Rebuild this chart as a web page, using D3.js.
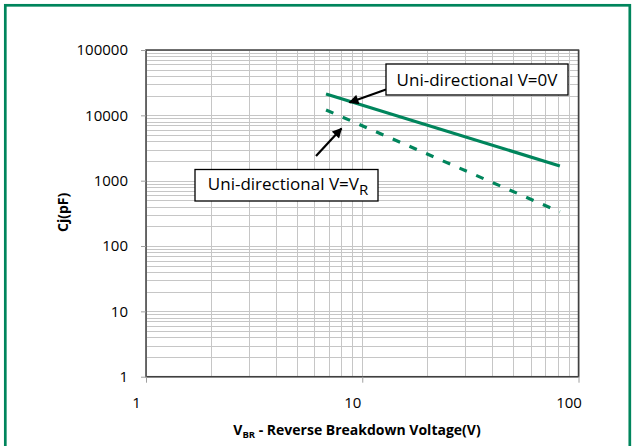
<!DOCTYPE html>
<html>
<head>
<meta charset="utf-8">
<script src="https://cdn.jsdelivr.net/npm/d3@7"></script>
<style>
body { margin: 0; background: #fff; }
text { font-family: "Open Sans", sans-serif; }
</style>
</head>
<body>
<script>
var width = 635;
var height = 446;

// data
var voltage = [6.8, 82];
var cap_0v = [21200, 1680];
var cap_vr = [12100, 333];
var x_ticks = [1, 10, 100];
var y_ticks = [1, 10, 100, 1000, 10000, 100000];

var green = "#00855c";
var plot_l = 146, plot_r = 578.5, plot_t = 50, plot_b = 376.7;

var svg = d3.select("body")
    .append("svg")
    .attr("width", width)
    .attr("height", height);

// green frame round the whole chart
svg.append("rect")
    .attr("x", 5.3)
    .attr("y", 5.3)
    .attr("width", 624.5)
    .attr("height", 460)
    .attr("fill", "none")
    .attr("stroke", green)
    .attr("stroke-width", 2.7);

var x = d3.scaleLog().domain([1, 100]).range([plot_l, plot_r]);
var y = d3.scaleLog().domain([1, 100000]).range([plot_b, plot_t]);

// grid, every 1..9 of each decade
svg.append("g")
    .selectAll("line")
    .data(x.ticks())
    .enter()
    .append("line")
    .attr("x1", function(d) { return Math.round(x(d)) + 0.5; })
    .attr("x2", function(d) { return Math.round(x(d)) + 0.5; })
    .attr("y1", plot_t)
    .attr("y2", plot_b)
    .attr("stroke", "#c6c6c6")
    .attr("stroke-width", 1);

svg.append("g")
    .selectAll("line")
    .data(y.ticks())
    .enter()
    .append("line")
    .attr("x1", plot_l)
    .attr("x2", plot_r)
    .attr("y1", function(d) { return Math.round(y(d)) + 0.5; })
    .attr("y2", function(d) { return Math.round(y(d)) + 0.5; })
    .attr("stroke", "#c6c6c6")
    .attr("stroke-width", 1);

// plot frame
svg.append("rect")
    .attr("x", plot_l)
    .attr("y", plot_t)
    .attr("width", plot_r - plot_l)
    .attr("height", plot_b - plot_t)
    .attr("fill", "none")
    .attr("stroke", "#404040")
    .attr("stroke-width", 1.5);

// axes, ticks only at decades
var x_axis = svg.append("g")
    .attr("transform", "translate(0," + plot_b + ")")
    .call(d3.axisBottom(x).tickValues(x_ticks).tickSize(6).tickFormat(d3.format("d")));
x_axis.select(".domain").remove();
x_axis.selectAll(".tick line").attr("stroke", "#a0a0a0");
x_axis.selectAll(".tick text")
    .attr("x", -10)
    .attr("y", 0)
    .attr("dy", "31px")
    .attr("font-family", "Open Sans")
    .attr("font-size", "15px")
    .attr("fill", "#000");

var y_axis = svg.append("g")
    .attr("transform", "translate(" + plot_l + ",0)")
    .call(d3.axisLeft(y).tickValues(y_ticks).tickSize(5).tickFormat(d3.format("d")));
y_axis.select(".domain").remove();
y_axis.selectAll(".tick line").attr("stroke", "#a0a0a0");
y_axis.selectAll(".tick text")
    .attr("x", -18)
    .attr("font-family", "Open Sans")
    .attr("font-size", "15px")
    .attr("fill", "#000");

// axis titles
var x_title = svg.append("text")
    .attr("x", 357)
    .attr("y", 435)
    .attr("text-anchor", "middle")
    .attr("font-size", "14px")
    .attr("font-weight", "bold");
x_title.append("tspan").text("V");
x_title.append("tspan").attr("font-size", "9.5px").attr("dy", 3).text("BR");
x_title.append("tspan").attr("dy", -3).text(" - Reverse Breakdown Voltage(V)");

svg.append("text")
    .attr("transform", "translate(68," + ((plot_t + plot_b) / 2 - 1) + ") rotate(-90)")
    .attr("text-anchor", "middle")
    .attr("font-size", "14px")
    .attr("font-weight", "bold")
    .text("Cj(pF)");

// the two curves
var pts_0v = voltage.map(function(v, i) { return [v, cap_0v[i]]; });
var pts_vr = voltage.map(function(v, i) { return [v, cap_vr[i]]; });

var line = d3.line()
    .x(function(d) { return x(d[0]); })
    .y(function(d) { return y(d[1]); });

svg.append("path")
    .datum(pts_0v)
    .attr("d", line)
    .attr("fill", "none")
    .attr("stroke", green)
    .attr("stroke-width", 3.2);

svg.append("path")
    .datum(pts_vr)
    .attr("d", line)
    .attr("fill", "none")
    .attr("stroke", green)
    .attr("stroke-width", 3.2)
    .attr("stroke-dasharray", "8,10.2");

// call-outs
var defs = svg.append("defs");
defs.append("marker")
    .attr("id", "head")
    .attr("viewBox", "0 0 10 10")
    .attr("refX", 9)
    .attr("refY", 5)
    .attr("markerWidth", 5)
    .attr("markerHeight", 4.5)
    .attr("markerUnits", "strokeWidth")
    .attr("orient", "auto")
    .append("path")
    .attr("d", "M0,0 L10,5 L0,10 z")
    .attr("fill", "#000");

svg.append("line")
    .attr("x1", 386).attr("y1", 89.5)
    .attr("x2", 349.5).attr("y2", 102.5)
    .attr("stroke", "#000")
    .attr("stroke-width", 2.2)
    .attr("marker-end", "url(#head)");

svg.append("line")
    .attr("x1", 316).attr("y1", 156)
    .attr("x2", 341.5).attr("y2", 128.5)
    .attr("stroke", "#000")
    .attr("stroke-width", 2.2)
    .attr("marker-end", "url(#head)");

svg.append("rect")
    .attr("x", 386).attr("y", 64)
    .attr("width", 182).attr("height", 31)
    .attr("fill", "#fff")
    .attr("stroke", "#000")
    .attr("stroke-width", 1.3);

svg.append("text")
    .attr("x", 477).attr("y", 85.5)
    .attr("text-anchor", "middle")
    .attr("font-size", "17px")
    .text("Uni-directional V=0V");

svg.append("rect")
    .attr("x", 195).attr("y", 169.5)
    .attr("width", 183).attr("height", 31.5)
    .attr("fill", "#fff")
    .attr("stroke", "#000")
    .attr("stroke-width", 1.3);

var t2 = svg.append("text")
    .attr("x", 288).attr("y", 190)
    .attr("text-anchor", "middle")
    .attr("font-size", "17px");
t2.append("tspan").text("Uni-directional V=V");
t2.append("tspan").attr("font-size", "15px").attr("dy", 5).text("R");
</script>
</body>
</html>
